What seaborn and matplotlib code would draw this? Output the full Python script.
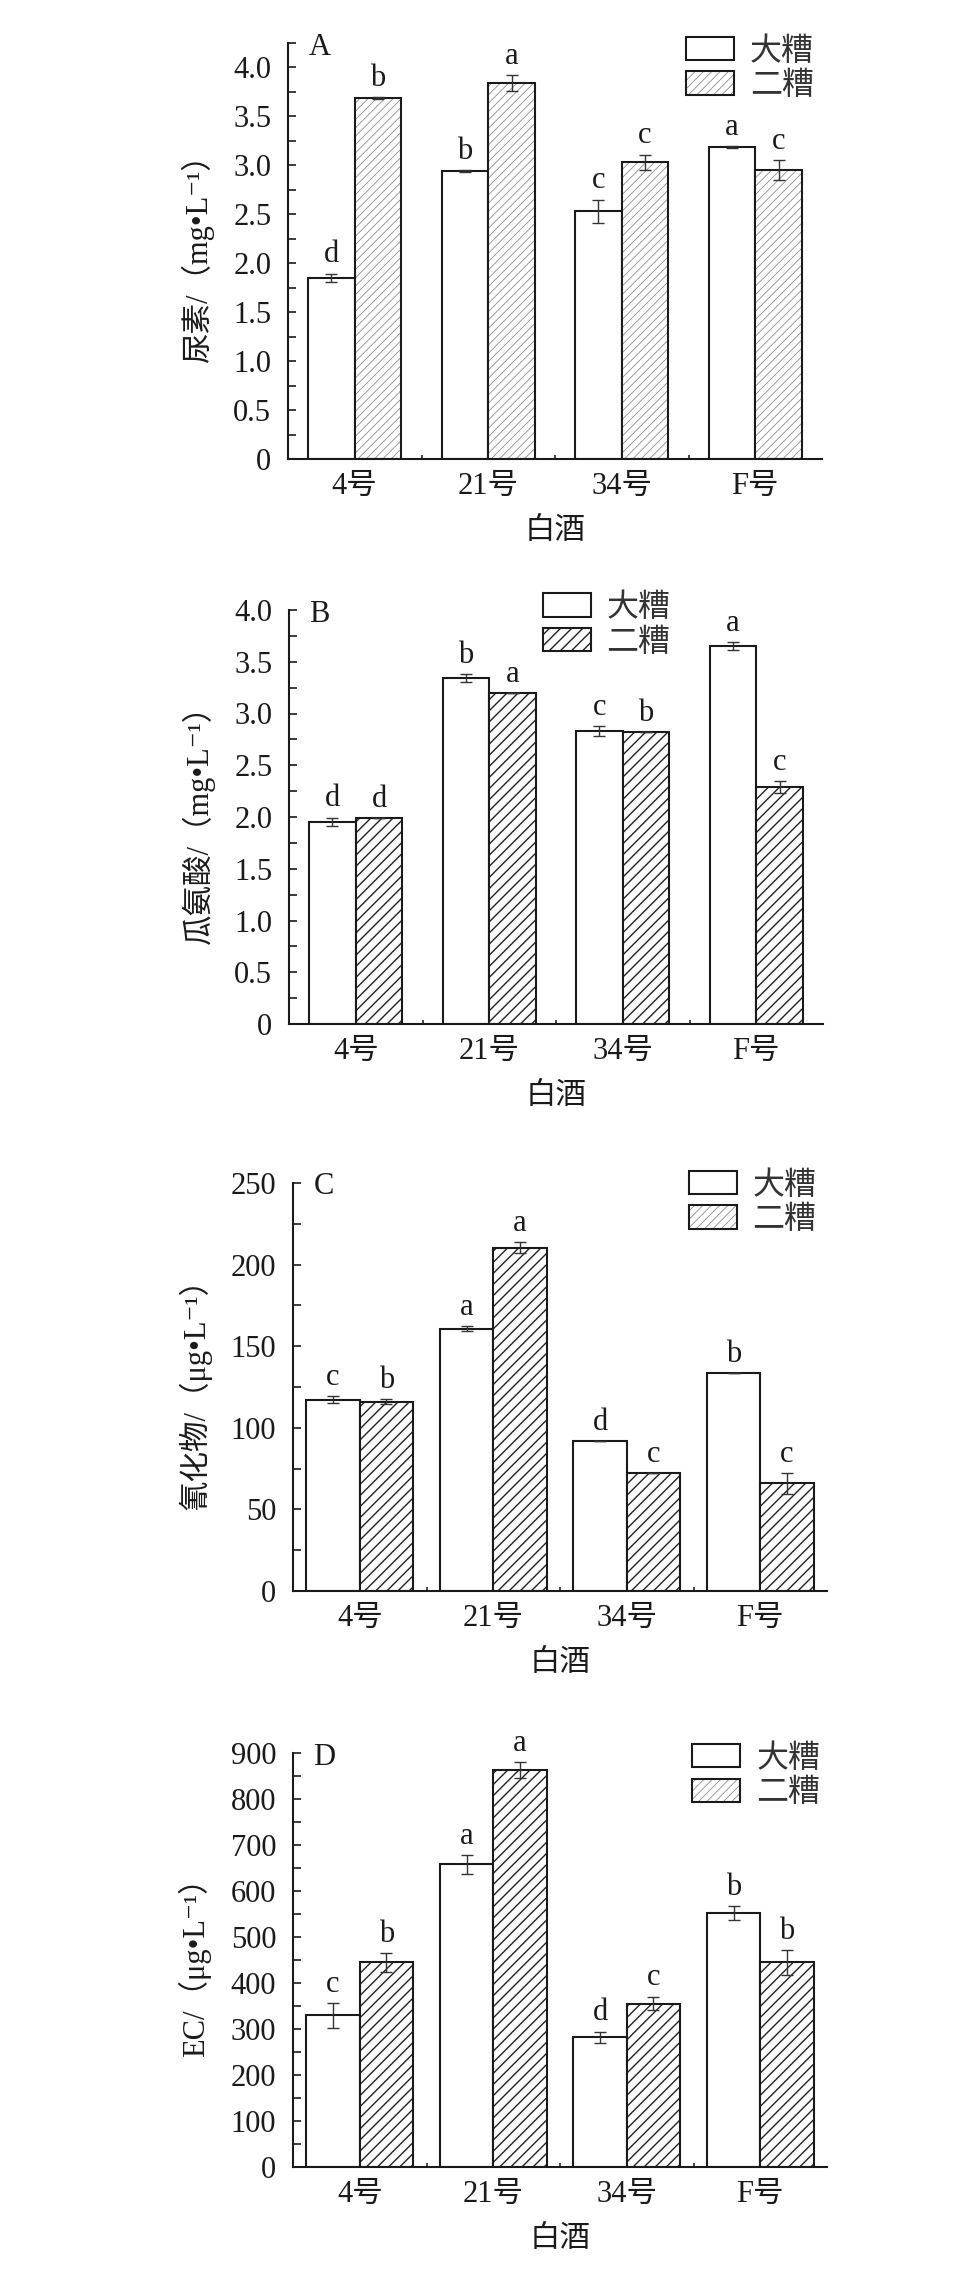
import numpy as np
import pandas as pd
import matplotlib
matplotlib.use("Agg")
import matplotlib.pyplot as plt
from matplotlib.patches import Patch, Rectangle
from matplotlib.legend_handler import HandlerTuple
import seaborn as sns

# ---------------- data ----------------
samples = ["4号", "21号", "34号", "F号"]
groups = ["大糟", "二糟"]

# Panel A: 尿素 (mg/L)
A_da = [1.85, 2.94, 2.53, 3.19]
A_da_sd = [0.045, 0.01, 0.12, 0.01]
A_er = [3.685, 3.84, 3.03, 2.955]
A_er_sd = [0.01, 0.08, 0.08, 0.10]
A_da_let = ["d", "b", "c", "a"]
A_er_let = ["b", "a", "c", "c"]

# Panel B: 瓜氨酸 (mg/L)
B_da = [1.955, 3.34, 2.83, 3.65]
B_da_sd = [0.04, 0.04, 0.05, 0.04]
B_er = [1.99, 3.20, 2.82, 2.29]
B_er_sd = [0.0, 0.0, 0.0, 0.06]
B_da_let = ["d", "b", "c", "a"]
B_er_let = ["d", "a", "b", "c"]

# Panel C: 氰化物 (ug/L)
C_da = [117.2, 160.6, 91.8, 133.5]
C_da_sd = [2.0, 1.5, 0.0, 0.0]
C_er = [115.9, 210.4, 72.4, 66.0]
C_er_sd = [1.5, 3.2, 0.0, 6.5]
C_da_let = ["c", "a", "d", "b"]
C_er_let = ["b", "a", "c", "c"]

# Panel D: EC (ug/L)
D_da = [329.6, 657.7, 282.5, 551.4]
D_da_sd = [26.6, 20.0, 12.0, 15.0]
D_er = [445.0, 862.8, 355.4, 445.0]
D_er_sd = [20.0, 17.0, 15.0, 27.0]
D_da_let = ["c", "a", "d", "b"]
D_er_let = ["b", "a", "c", "b"]

A_ticks = [0, 0.5, 1.0, 1.5, 2.0, 2.5, 3.0, 3.5, 4.0]
A_ticklabels = ["0", "0.5", "1.0", "1.5", "2.0", "2.5", "3.0", "3.5", "4.0"]
B_ticks = A_ticks
B_ticklabels = A_ticklabels
C_ticks = [0, 50, 100, 150, 200, 250]
C_ticklabels = ["0", "50", "100", "150", "200", "250"]
D_ticks = [0, 100, 200, 300, 400, 500, 600, 700, 800, 900]
D_ticklabels = ["0", "100", "200", "300", "400", "500", "600", "700", "800", "900"]

ylabels = ["尿素/（mg•L⁻¹）", "瓜氨酸/（mg•L⁻¹）", "氰化物/（μg•L⁻¹）", "EC/（μg•L⁻¹）"]
xlabel = "白酒"
panel_letters = ["A", "B", "C", "D"]

# ---------------- style ----------------
sns.set_theme(style="ticks")
FAM = ["Liberation Serif", "Noto Sans CJK SC", "DejaVu Sans"]
plt.rcParams["font.family"] = FAM
plt.rcParams["axes.unicode_minus"] = False
TXT = "#1a1a1a"
FS = 22

fig = plt.figure(figsize=(9.6, 22.69), dpi=100)
H = 2269.0
W = 960.0

panels = [
    dict(da=A_da, da_sd=A_da_sd, er=A_er, er_sd=A_er_sd, dl=A_da_let, el=A_er_let,
         ylim=(0, 4.25), ticks=A_ticks, tl=A_ticklabels, minor=0.25,
         box=(288, 822, 43, 459), width=0.7, hatch="////", hcol="#8c8c8c", hlw=0.6,
         leg_hatch="////", leg_hcol="#8c8c8c", leg_hlw=0.6, leg_xy=(0.745, 1.015)),
    dict(da=B_da, da_sd=B_da_sd, er=B_er, er_sd=B_er_sd, dl=B_da_let, el=B_er_let,
         ylim=(0, 4.0), ticks=B_ticks, tl=B_ticklabels, minor=0.25,
         box=(289, 823, 610, 1024), width=0.7, hatch="///", hcol="#222222", hlw=1.0,
         leg_hatch="///", leg_hcol="#222222", leg_hlw=1.0, leg_xy=(0.475, 1.04)),
    dict(da=C_da, da_sd=C_da_sd, er=C_er, er_sd=C_er_sd, dl=C_da_let, el=C_er_let,
         ylim=(0, 250), ticks=C_ticks, tl=C_ticklabels, minor=25,
         box=(293, 827, 1183, 1591), width=0.8, hatch="///", hcol="#222222", hlw=1.0,
         leg_hatch="////", leg_hcol="#8c8c8c", leg_hlw=0.6, leg_xy=(0.741, 1.03)),
    dict(da=D_da, da_sd=D_da_sd, er=D_er, er_sd=D_er_sd, dl=D_da_let, el=D_er_let,
         ylim=(0, 900), ticks=D_ticks, tl=D_ticklabels, minor=50,
         box=(293, 827, 1753, 2167), width=0.8, hatch="///", hcol="#222222", hlw=1.0,
         leg_hatch="////", leg_hcol="#8c8c8c", leg_hlw=0.6, leg_xy=(0.748, 1.022)),
]

for i, P in enumerate(panels):
    x0, x1, yt, yb = P["box"]
    ax = fig.add_axes([x0 / W, 1 - yb / H, (x1 - x0) / W, (yb - yt) / H])

    df = pd.DataFrame({
        "sample": samples * 2,
        "group": [groups[0]] * 4 + [groups[1]] * 4,
        "value": list(P["da"]) + list(P["er"]),
    })
    with plt.rc_context({"hatch.linewidth": P["hlw"]}):
        sns.barplot(data=df, x="sample", y="value", hue="group", order=samples,
                    hue_order=groups, palette=["white", "white"], saturation=1,
                    width=P["width"], errorbar=None, legend=False, ax=ax,
                    edgecolor="#1a1a1a", linewidth=1.5, gap=0)
        c_da, c_er = ax.containers[0], ax.containers[1]
        for p in c_er:
            p.set_hatch(P["hatch"])
            p.set_edgecolor(P["hcol"])
            p.set_linewidth(0)
            if hasattr(p, "set_hatch_linewidth"):
                p.set_hatch_linewidth(P["hlw"])
        for p in c_er:
            ax.add_patch(Rectangle((p.get_x(), p.get_y()), p.get_width(), p.get_height(),
                                   fill=False, edgecolor="#1a1a1a", linewidth=1.5, zorder=3))

    for cont, vals, sds, lets in [(c_da, P["da"], P["da_sd"], P["dl"]),
                                  (c_er, P["er"], P["er_sd"], P["el"])]:
        xs = [p.get_x() + p.get_width() / 2 for p in cont]
        ax.errorbar(xs, vals, yerr=sds, fmt="none", ecolor="#333333", elinewidth=1.0,
                    capsize=4.5, capthick=1.0, zorder=5)
        for xx, v, s, l in zip(xs, vals, sds, lets):
            ax.annotate(l, (xx, v + s), xytext=(0, 3), textcoords="offset points",
                        ha="center", va="bottom", fontsize=FS, color=TXT)

    ax.set_xlim(-0.5, 3.5)
    ax.set_ylim(*P["ylim"])
    ax.set_yticks(P["ticks"])
    ax.set_yticklabels(P["tl"])
    ax.set_yticks(np.arange(P["minor"], P["ylim"][1] + 1e-9, P["minor"] * 2), minor=True)
    ax.set_xticks([0.5, 1.5, 2.5], minor=True)
    ax.tick_params(axis="y", which="both", direction="in", length=6, width=1.2,
                   labelsize=FS, pad=12, colors=TXT)
    ax.tick_params(axis="x", which="major", length=0, labelsize=FS, pad=9, colors=TXT)
    ax.tick_params(axis="x", which="minor", direction="in", length=3, width=1.2)
    sns.despine(ax=ax)
    for sp in ["left", "bottom"]:
        ax.spines[sp].set_linewidth(1.5)
        ax.spines[sp].set_color("#1a1a1a")
    ax.set_xlabel(xlabel, fontsize=FS, color=TXT, labelpad=12)
    ax.set_ylabel(ylabels[i], fontsize=FS, color=TXT, labelpad=14)
    ax.text(0.038, 0.972, panel_letters[i], transform=ax.transAxes, fontsize=FS,
            ha="left", va="baseline", color=TXT)

    h1 = Patch(facecolor="white", edgecolor="#1a1a1a", linewidth=1.5)
    with plt.rc_context({"hatch.linewidth": P["leg_hlw"]}):
        h2a = Patch(facecolor="white", edgecolor=P["leg_hcol"], hatch=P["leg_hatch"], linewidth=0)
        if hasattr(h2a, "set_hatch_linewidth"):
            h2a.set_hatch_linewidth(P["leg_hlw"])
    h2b = Patch(fill=False, edgecolor="#1a1a1a", linewidth=1.5)
    with plt.rc_context({"hatch.linewidth": P["leg_hlw"]}):
        leg = ax.legend([h1, (h2a, h2b)], groups, handler_map={tuple: HandlerTuple(ndivide=1)},
                        loc="upper left", bbox_to_anchor=P["leg_xy"], frameon=False,
                        fontsize=23, handlelength=1.5, handleheight=0.75, handletextpad=0.5,
                        labelspacing=0.15, borderpad=0, borderaxespad=0)
    for t in leg.get_texts():
        t.set_color("#333333")

fig.savefig("out.png", dpi=100)
